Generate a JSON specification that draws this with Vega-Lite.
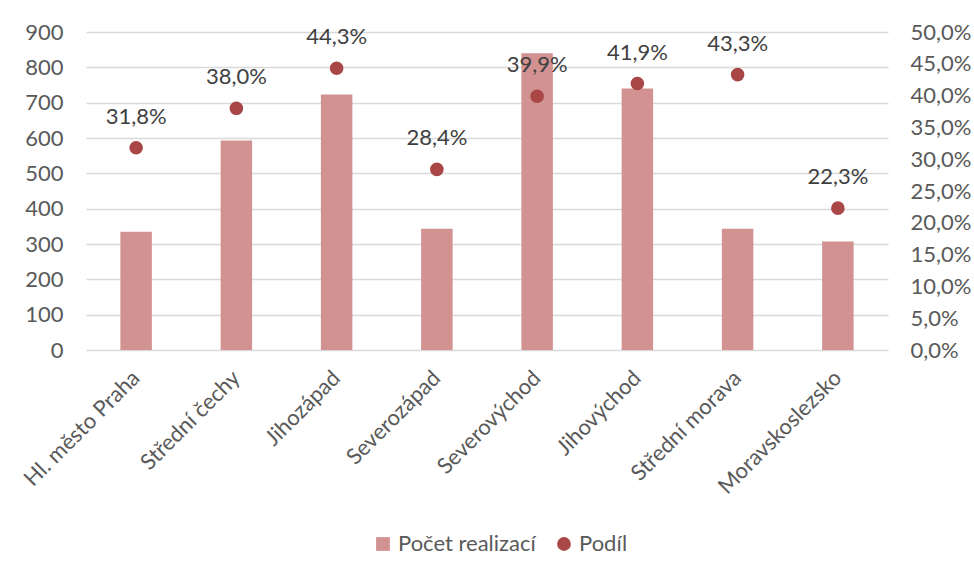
{
  "$schema": "https://vega.github.io/schema/vega-lite/v6.json",
  "autosize": {"type": "none"},
  "width": 802,
  "height": 318,
  "padding": {"left": 86, "top": 32, "right": 86, "bottom": 227},
  "background": "white",
  "config": {
    "font": "Lato",
    "locale": {
      "number": {"decimal": ",", "thousands": " ", "grouping": [3], "currency": ["", " Kč"]}
    },
    "view": {"stroke": null},
    "axis": {"labelFont": "Lato", "labelFontSize": 22, "labelColor": "#595959", "domain": false, "ticks": false, "title": null}
  },
  "data": {
    "values": [
      {"region": "Hl. město Praha", "pocet": 335, "podil": 0.318},
      {"region": "Střední čechy", "pocet": 593, "podil": 0.380},
      {"region": "Jihozápad", "pocet": 723, "podil": 0.443},
      {"region": "Severozápad", "pocet": 343, "podil": 0.284},
      {"region": "Severovýchod", "pocet": 840, "podil": 0.399},
      {"region": "Jihovýchod", "pocet": 740, "podil": 0.419},
      {"region": "Střední morava", "pocet": 343, "podil": 0.433},
      {"region": "Moravskoslezsko", "pocet": 307, "podil": 0.223}
    ]
  },
  "encoding": {
    "x": {
      "field": "region",
      "type": "nominal",
      "sort": null,
      "scale": {"paddingInner": 0.686, "paddingOuter": 0.343},
      "axis": {"labelAngle": -45, "labelAlign": "right", "labelBaseline": "middle", "labelPadding": 24, "grid": false}
    }
  },
  "layer": [
    {
      "mark": {"type": "bar", "color": "#D29292"},
      "encoding": {
        "y": {
          "field": "pocet",
          "type": "quantitative",
          "scale": {"domain": [0, 900], "nice": false},
          "axis": {"orient": "left", "values": [0, 100, 200, 300, 400, 500, 600, 700, 800, 900], "grid": true, "gridColor": "#D9D9D9", "gridWidth": 1.5, "labelPadding": 23}
        },
        "color": {
          "datum": "Počet realizací",
          "type": "nominal",
          "scale": {"domain": ["Počet realizací", "Podíl"], "range": ["#D29292", "#A94646"]},
          "legend": {
            "orient": "none",
            "direction": "horizontal",
            "legendX": 286,
            "legendY": 501,
            "title": null,
            "labelFont": "Lato",
            "labelFontSize": 22,
            "labelColor": "#595959",
            "symbolSize": 190,
            "symbolStrokeWidth": 0,
            "symbolOpacity": 1,
            "columnPadding": 17,
            "labelOffset": 4,
            "encode": {
              "symbols": {
                "update": {
                  "shape": {"signal": "datum.value === 'Podíl' ? 'circle' : 'square'"},
                  "fillOpacity": {"value": 1},
                  "strokeWidth": {"value": 0}
                }
              }
            }
          }
        }
      }
    },
    {
      "layer": [
        {
          "mark": {"type": "point", "filled": true, "size": 185, "opacity": 1, "color": "#A94646"},
          "encoding": {
            "color": {"datum": "Podíl", "type": "nominal"}
          }
        },
        {
          "mark": {"type": "text", "dy": -31, "fontSize": 22, "color": "#404040", "font": "Lato"},
          "encoding": {
            "text": {"field": "podil", "type": "quantitative", "format": ".1%"}
          }
        }
      ],
      "encoding": {
        "y": {
          "field": "podil",
          "type": "quantitative",
          "scale": {"domain": [0, 0.5], "nice": false},
          "axis": {"orient": "right", "values": [0, 0.05, 0.1, 0.15, 0.2, 0.25, 0.3, 0.35, 0.4, 0.45, 0.5], "format": ".1%", "grid": false, "labelPadding": 22}
        }
      }
    }
  ],
  "resolve": {"scale": {"y": "independent"}}
}
